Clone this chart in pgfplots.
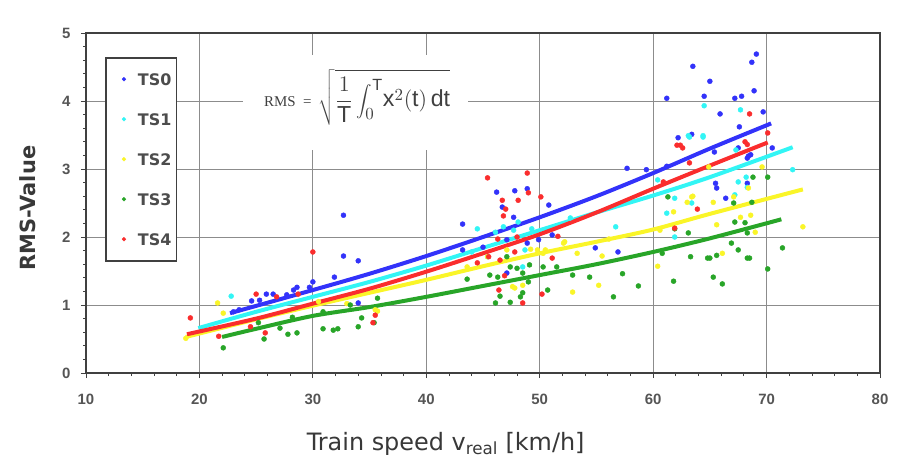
\documentclass[border=0pt]{standalone}
\usepackage{pgfplots}
\pgfplotsset{compat=1.18}
\usepackage{fontspec}
\setmainfont{Liberation Sans}
\newfontfamily\serifrm{Liberation Serif}
\newfontfamily\dvs{DejaVu Sans}
\definecolor{cTS0}{RGB}{50,50,250}
\definecolor{cTS1}{RGB}{50,245,245}
\definecolor{cTS2}{RGB}{250,245,40}
\definecolor{cTS3}{RGB}{40,165,40}
\definecolor{cTS4}{RGB}{250,45,45}
\definecolor{frame}{RGB}{64,64,64}
\definecolor{tick}{RGB}{85,85,85}
\begin{document}
\begin{tikzpicture}
\useasboundingbox (0,0) rectangle (900bp,462bp);
\begin{axis}[
  at={(86bp,89bp)}, anchor=south west,
  width=794bp, height=340bp, scale only axis,
  xmin=10, xmax=80, ymin=0, ymax=5,
  xtick={10,20,...,80}, ytick={0,1,...,5},
  minor x tick num=4, minor y tick num=4,
  tick align=outside, tick pos=left,
  major tick length=5bp, minor tick length=3bp,
  every tick/.style={frame, line width=0.8bp},
  grid=major,
  major grid style={black!45, line width=0.8bp},
  axis line style={frame, line width=1.8bp},
  /pgf/number format/assume math mode=true,
  ticklabel style={font=\bfseries\fontsize{15}{15}\selectfont, text=tick},
  xticklabel style={yshift=-13bp},
  yticklabel style={xshift=-7bp},
  xlabel={Train speed v\textsubscript{real} [km/h]},
  xlabel style={at={(axis description cs:0.453,-0.228)}, anchor=base, font=\dvs\fontsize{24}{24}\selectfont, text=black!78},
  ylabel={RMS-Value},
  ylabel style={at={(axis description cs:-0.063,0.485)}, anchor=base, font=\dvs\bfseries\fontsize{21}{21}\selectfont, text=black!78},
  legend style={at={(axis cs:11.68,4.65)}, anchor=north west, draw=frame, line width=1.8bp, fill=white,
    font=\dvs\bfseries\fontsize{16}{16}\selectfont, text=black!70, row sep=20bp, inner xsep=0pt, inner ysep=11.5bp,
    nodes={inner sep=0pt, text depth=0pt}},
  legend cell align=left,
  legend image code/.code={\path[draw=none, fill=none] (-18bp,-10bp) rectangle (14bp,10bp); \draw[#1, line width=0.4pt, mark size=1.9bp] plot coordinates {(0bp,0bp)};},
  scatter mark/.style={only marks, mark=*, mark size=2.5bp, mark options={draw=#1, fill=#1}, color=#1},
]
% Scatter TS0
\addplot[scatter mark=cTS0] coordinates {
(23.0,0.90)(23.5,0.93)(24.6,1.06)(25.3,1.07)(25.9,1.16)(26.5,1.16)(27.7,1.15)(28.3,1.22)
(28.6,1.26)(29.7,1.26)(30.0,1.34)(31.9,1.41)(32.7,1.72)(32.7,2.32)(34.0,1.65)(34.0,1.03)
(43.2,2.19)(43.2,1.81)(45.0,1.85)(46.2,2.66)(46.7,2.44)(47.1,1.96)(47.1,1.47)(47.7,2.29)
(47.8,2.68)(48.9,2.71)(48.9,1.91)(49.9,1.96)(50.8,2.47)(51.1,2.03)(54.9,1.84)(56.9,1.78)
(57.7,3.01)(59.4,2.99)(61.2,3.04)(61.2,4.04)(62.2,3.46)(63.4,3.51)(63.5,4.51)(64.5,4.07)
(65.0,4.29)(65.4,3.25)(65.5,2.79)(65.6,2.72)(65.9,3.81)(66.4,2.57)(67.2,4.04)(67.5,3.31)
(67.6,3.62)(67.8,4.07)(68.3,2.79)(68.3,3.16)(68.4,3.19)(68.6,3.21)(68.7,4.57)(68.9,4.15)
(69.1,4.69)(69.7,3.84)(70.5,3.31)
};
\addlegendentry{TS0\hspace*{5bp}}
% Scatter TS1
\addplot[scatter mark=cTS1] coordinates {
(22.8,1.13)(44.0,1.78)(44.5,2.12)(45.4,1.71)(46.1,2.07)(46.8,2.15)(47.7,2.10)(48.1,2.22)
(48.5,1.56)(48.7,1.81)(49.3,2.12)(52.7,2.28)(56.7,2.15)(60.4,2.84)(61.2,2.35)(61.9,2.57)
(61.9,2.00)(63.1,3.49)(63.2,3.47)(63.4,2.50)(64.4,3.49)(64.4,3.47)(64.5,3.93)(67.2,2.62)
(67.3,3.28)(67.5,2.81)(67.7,3.87)(68.2,2.88)(68.3,2.73)(72.3,2.99)
};
\addlegendentry{TS1\hspace*{5bp}}
% Scatter TS2
\addplot[scatter mark=cTS2] coordinates {
(18.8,0.51)(21.6,1.03)(22.1,0.88)(30.5,1.05)(33.0,1.02)(35.5,0.93)(35.7,0.91)(43.6,1.56)
(45.4,1.71)(47.1,1.81)(47.6,1.27)(47.8,1.25)(48.5,1.29)(49.2,1.82)(49.8,1.81)(50.3,1.76)
(50.5,1.81)(52.1,1.91)(52.2,1.93)(52.9,1.19)(53.3,1.76)(55.2,1.29)(55.5,1.72)(56.1,1.97)
(60.4,1.57)(60.6,2.10)(61.8,2.37)(63.0,2.51)(63.4,2.59)(63.5,2.60)(64.9,3.03)(65.3,2.51)
(65.6,2.18)(66.1,1.76)(67.1,2.59)(67.7,2.29)(68.4,2.72)(68.6,2.32)(69.0,2.07)(69.6,3.03)
(73.2,2.15)
};
\addlegendentry{TS2\hspace*{5bp}}
% Scatter TS3
\addplot[scatter mark=cTS3] coordinates {
(22.1,0.37)(25.2,0.74)(25.7,0.50)(27.1,0.66)(27.8,0.57)(28.2,0.82)(28.6,0.59)(30.9,0.65)
(30.9,0.90)(31.8,0.63)(32.2,0.65)(33.3,1.00)(34.0,0.68)(34.3,0.81)(35.4,0.74)(35.7,1.10)
(43.6,1.38)(45.6,1.44)(46.1,1.03)(46.3,1.41)(46.5,1.13)(47.1,1.71)(47.4,1.56)(47.4,1.04)
(48.0,1.54)(48.3,1.12)(48.5,1.18)(48.5,1.47)(49.0,1.34)(49.1,1.59)(50.3,1.56)(50.7,1.22)
(51.5,1.56)(52.9,1.44)(54.4,1.41)(56.5,1.12)(57.3,1.46)(58.7,1.28)(60.8,1.76)(61.3,2.59)
(61.8,1.35)(61.9,2.12)(63.1,2.06)(63.3,1.71)(64.8,1.69)(65.0,1.69)(65.3,1.41)(65.6,1.73)
(66.1,1.31)(66.9,1.91)(67.1,2.50)(67.2,2.22)(67.5,1.81)(68.1,2.21)(68.3,2.06)(68.3,1.69)
(68.5,1.69)(68.7,2.51)(68.8,2.88)(70.1,2.88)(70.1,1.53)(71.4,1.84)
};
\addlegendentry{TS3\hspace*{5bp}}
% Scatter TS4
\addplot[scatter mark=cTS4] coordinates {
(19.2,0.81)(21.7,0.54)(24.5,0.68)(25.0,1.16)(25.8,0.59)(26.8,1.12)(28.7,1.16)(30.0,1.78)
(35.3,0.74)(35.5,0.85)(44.5,1.62)(45.4,2.87)(45.5,1.71)(46.3,1.97)(46.4,1.22)(46.5,1.66)
(46.7,2.54)(46.8,2.31)(46.9,1.43)(47.0,2.41)(47.8,1.78)(48.0,2.00)(48.1,2.54)(48.5,1.03)
(48.9,2.94)(49.0,2.65)(50.1,2.59)(50.2,1.16)(51.1,1.69)(51.6,2.01)(60.9,2.81)(61.9,2.13)
(62.1,3.35)(62.4,3.35)(62.6,3.31)(63.2,3.09)(63.9,2.41)(68.1,3.40)(68.3,3.36)(68.5,3.81)
(70.1,3.53)
};
\addlegendentry{TS4\hspace*{5bp}}
% Regression lines
\addplot[forget plot, cTS3, line width=4bp, smooth] coordinates {
(22.0,0.53)(25,0.65)(30,0.84)(35,0.97)(40,1.12)(45,1.28)(50,1.44)(55,1.60)(60,1.78)(65,1.98)(71.3,2.26)};
\addplot[forget plot, cTS2, line width=4bp, smooth] coordinates {
(18.8,0.53)(25,0.79)(30,0.99)(35,1.18)(40,1.37)(45,1.57)(50,1.76)(55,1.93)(60,2.11)(65,2.34)(73.2,2.70)};
\addplot[forget plot, cTS1, line width=4bp, smooth] coordinates {
(19.9,0.66)(25,0.90)(30,1.12)(35,1.34)(40,1.58)(45,1.84)(50,2.10)(55,2.36)(60,2.61)(65,2.88)(72.3,3.32)};
\addplot[forget plot, cTS4, line width=4bp, smooth] coordinates {
(18.9,0.57)(25,0.80)(30,1.02)(35,1.24)(40,1.49)(45,1.76)(50,2.04)(55,2.36)(60,2.71)(65,3.05)(70.1,3.39)};
\addplot[forget plot, cTS0, line width=4bp, smooth] coordinates {
(22.7,0.88)(30,1.22)(35,1.46)(40,1.72)(45,2.00)(50,2.29)(55,2.60)(60,2.94)(65,3.30)(70.4,3.67)};
% Formula
\node[fill=white, draw=none, inner sep=0pt, minimum width=225bp, minimum height=95bp] at (axis cs:33.77,3.98) {};
\node[inner sep=0pt, font=\serifrm\fontsize{15}{15}\selectfont, text=black!75]
  at (axis cs:33.9,4.05) {RMS\enspace=\enspace\scalebox{1.55}{$\displaystyle\sqrt{\frac{1}{\mathrm{T}}\int_0^{\mathrm{T}}\! \mathrm{x}^2(\mathrm{t})\,\mathrm{dt}}$}};
\end{axis}
\end{tikzpicture}
\end{document}
